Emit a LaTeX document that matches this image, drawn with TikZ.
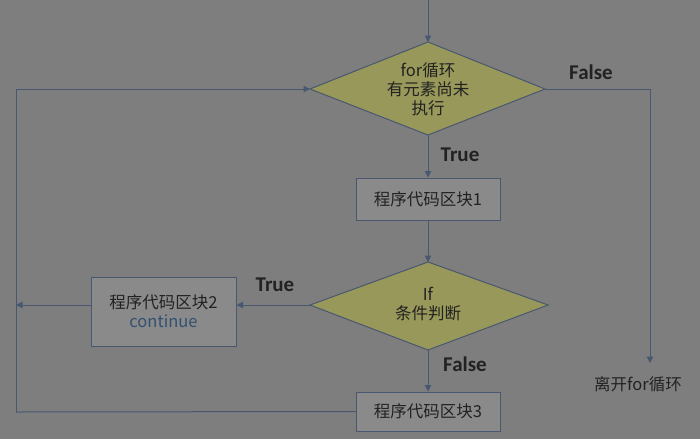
\documentclass[tikz,border=0pt]{standalone}
\usepackage{fontspec}
\setmainfont{Carlito}
\newfontfamily\cjk{Noto Sans CJK SC}
\usetikzlibrary{shapes.geometric,arrows.meta}
\definecolor{bg}{RGB}{126,126,126}
\definecolor{dfill}{RGB}{152,152,90}
\definecolor{bfill}{RGB}{138,138,138}
\definecolor{ln}{RGB}{72,88,112}
\definecolor{tx}{RGB}{34,34,34}
\definecolor{cont}{RGB}{50,80,112}
\tikzset{
  x=1pt,y=-1pt,
  every node/.style={text=tx,font=\cjk\fontsize{16.5}{19}\selectfont},
  boxn/.style={rectangle,draw=ln,fill=bfill,line width=1pt,align=center},
  conn/.style={draw=ln,line width=1pt},
  arr/.style={conn,-{Triangle[width=6.5pt,length=6.5pt]}},
  lbl/.style={font=\bfseries\fontsize{21}{24}\selectfont}
}
\begin{document}
\begin{tikzpicture}
\fill[bg] (0,0) rectangle (700,439);
\useasboundingbox (0,0) rectangle (700,439);
% diamond 1
\path[conn,fill=dfill] (310,89) -- (428,42) -- (545,89) -- (428,135) -- cycle;
\node[align=center] (d1) at (428,89) {for循环\\有元素尚未\\执行};
\coordinate (d1t) at (428,42);
\coordinate (d1l) at (310,89);
\coordinate (d1r) at (545,89);
\coordinate (d1b) at (428,135);
% diamond 2
\path[conn,fill=dfill] (310,305) -- (428,262) -- (548,305) -- (428,350) -- cycle;
\node[align=center] (d2) at (428,304) {If\\条件判断};
\coordinate (d2t) at (428,262);
\coordinate (d2l) at (310,305);
\coordinate (d2b) at (428,350);
% boxes
\node[boxn,minimum width=144pt,minimum height=42pt] (b1) at (428,199) {程序代码区块1};
\node[boxn,minimum width=145pt,minimum height=69pt] (b2) at (163.5,311.5) {程序代码区块2\\{\color{cont}continue}};
\node[boxn,minimum width=144pt,minimum height=39pt] (b3) at (428,411.5) {程序代码区块3};
\node (exit) at (638,384) {离开for循环};
% coordinates
\coordinate (top) at (428,0);
\coordinate (lt) at (16,89);
\coordinate (lb) at (16,412);
\coordinate (lm) at (16,305);
\coordinate (rt) at (650,89);
\coordinate (rb) at (650,363);
% connectors
\draw[arr] (top) -- (d1t);
\draw[arr] (lb) -- (lt) -- (d1l);
\draw[conn] (b3.west) -- (lb);
\draw[arr] (d1r) -- (rt) -- (rb);
\draw[arr] (d1b) -- (b1.north);
\draw[arr] (b1.south) -- (d2t);
\draw[arr] (d2l) -- (b2.east |- d2l);
\draw[arr] (b2.west |- lm) -- (lm);
\draw[arr] (d2b) -- (b3.north);
% labels
\node[lbl] (lf1) at (591,72) {False};
\node[lbl] (lt1) at (460,155) {True};
\node[lbl] (lt2) at (275,285) {True};
\node[lbl] (lf2) at (465,364) {False};
\end{tikzpicture}
\end{document}
